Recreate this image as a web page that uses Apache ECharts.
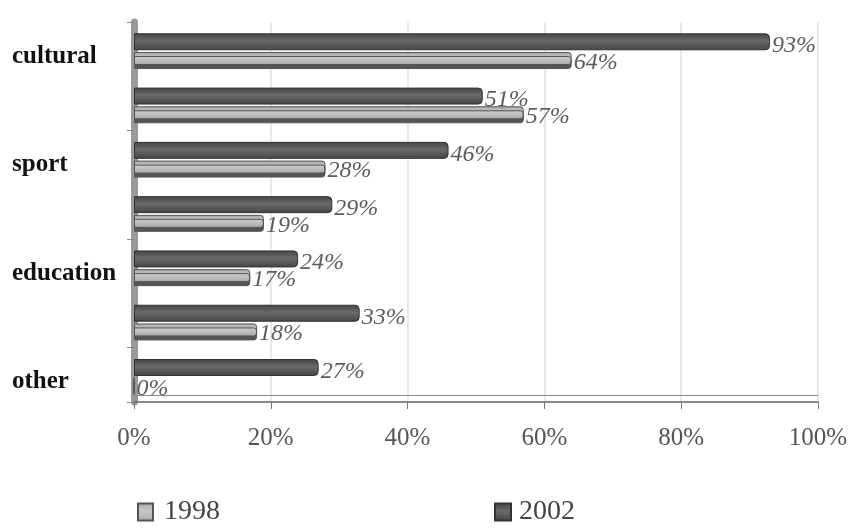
<!DOCTYPE html>
<html>
<head>
<meta charset="utf-8">
<script src="https://cdn.jsdelivr.net/npm/echarts@6/dist/echarts.min.js"></script>
<style>html,body{margin:0;padding:0;background:#fff;}#c{width:850px;height:528px;}</style>
</head>
<body>
<div id="c"></div>
<script>
var categories = ['cultural', ' ', 'sport', '  ', 'education', '   ', 'other'];
var values1998 = [64, 57, 28, 19, 17, 18, 0];
var values2002 = [93, 51, 46, 29, 24, 33, 27];
var xTicks = [0, 20, 40, 60, 80, 100];

var serif = '"Liberation Serif", "DejaVu Serif", serif';
var chart = echarts.init(document.getElementById('c'));

function grad(edge, mid) {
  return new echarts.graphic.LinearGradient(0, 0, 0, 1, [
    {offset: 0, color: edge}, {offset: 0.45, color: mid}, {offset: 1, color: edge}
  ]);
}
var labelStyle = {
  show: true, position: 'right', distance: 2, offset: [0, 4],
  fontFamily: serif, fontStyle: 'italic', fontSize: 24, color: '#5c5c5c',
  formatter: function (p) { return p.value + '%'; }
};

chart.setOption({
  animation: false,
  backgroundColor: '#fff',
  grid: {left: 134, right: 27, top: 22, bottom: 126, containLabel: false},
  legend: [
    {data: ['1998'], left: 132, top: 493, itemWidth: 15, itemHeight: 17, icon: 'rect',
     textStyle: {fontFamily: serif, fontSize: 28, color: '#444', padding: [0, 0, 0, 6]}},
    {data: ['2002'], left: 489, top: 493, itemWidth: 16, itemHeight: 17, icon: 'rect',
     textStyle: {fontFamily: serif, fontSize: 28, color: '#444', padding: [0, 0, 0, 3]}}
  ],
  xAxis: [{
    type: 'value', min: 0, max: 100, interval: 20,
    axisLine: {show: true, lineStyle: {color: '#666', width: 1.5}},
    axisTick: {show: true, length: 7, lineStyle: {color: '#777'}},
    axisLabel: {fontFamily: serif, fontSize: 25, color: '#555', margin: 24,
                formatter: function (v) { return xTicks.indexOf(v) >= 0 ? v + '%' : ''; }},
    splitLine: {show: true, lineStyle: {color: '#e2e2e2', width: 1.5}}
  }, {
    type: 'value', min: 0, max: 100, interval: 20, position: 'bottom', offset: -7,
    axisLine: {show: true, lineStyle: {color: '#888', width: 1}},
    axisTick: {show: false}, axisLabel: {show: false}, splitLine: {show: false}
  }],
  yAxis: {
    type: 'category', data: categories, inverse: true,
    axisLine: {show: true, lineStyle: {color: '#9a9a9a', width: 7}},
    axisTick: {show: true, length: 7, lineStyle: {color: '#888'}},
    axisLabel: {interval: 1, align: 'left', verticalAlign: 'top', lineHeight: 14,
                fontFamily: serif, fontWeight: 'bold', fontSize: 25, color: '#111', margin: 122}
  },
  series: [{
    name: '2002', type: 'bar', data: values2002, barWidth: 17, barGap: '10%',
    itemStyle: {color: grad('#444', '#6a6a6a'), borderColor: '#333', borderWidth: 1, borderRadius: [0, 4, 4, 0]},
    label: labelStyle
  }, {
    name: '1998', type: 'bar', data: values1998, barWidth: 13, barGap: '10%',
    itemStyle: {color: grad('#a8a8a8', '#c8c8c8'), borderColor: '#555', borderWidth: 1, borderRadius: [0, 3, 3, 0],
                shadowColor: '#555', shadowOffsetY: 4, shadowBlur: 0},
    label: labelStyle
  }]
});
</script>
</body>
</html>
